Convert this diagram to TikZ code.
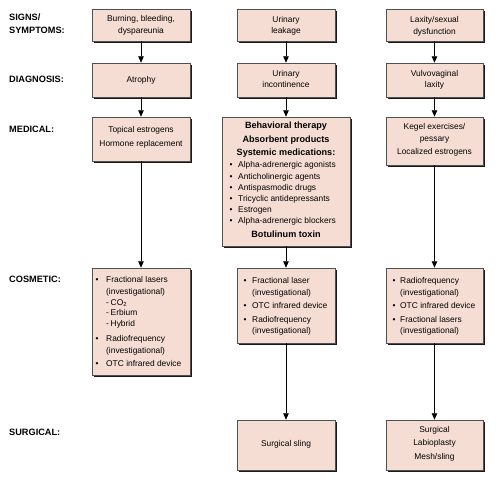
\documentclass[tikz,border=0pt]{standalone}
\usepackage{fontspec}
\setmainfont{Liberation Sans}
\usetikzlibrary{arrows.meta,shadows}
\definecolor{pinkfill}{HTML}{F6DDD4}
\definecolor{boxline}{HTML}{505050}
\begin{document}
\begin{tikzpicture}[x=1pt,y=-1pt,
  box/.style={draw=boxline, line width=0.5pt, fill=pinkfill, inner sep=0pt,
    drop shadow={shadow xshift=2.2pt, shadow yshift=-2.2pt, fill=black!90, opacity=1}},
  txt/.style={font=\fontsize{8.4}{10}\selectfont, inner sep=0pt, anchor=mid},
  txtl/.style={txt, anchor=mid west},
  btxt/.style={font=\fontsize{9.1}{11}\selectfont\bfseries, inner sep=0pt, anchor=mid},
  lab/.style={font=\fontsize{9.2}{11}\selectfont\bfseries, inner sep=0pt, anchor=mid west},
  arr/.style={line width=0.9pt, -{Triangle[width=5.5pt,length=6.5pt]}}]
\useasboundingbox (0,0) rectangle (500,482);

% row labels
\node[lab] (lsigns) at (9,17.5) {SIGNS/};
\node[lab] (lsymp) at (9,31) {SYMPTOMS:};
\node[lab] (ldiag) at (9,80) {DIAGNOSIS:};
\node[lab] (lmed) at (9,130) {MEDICAL:};
\node[lab] (lcos) at (9,280) {COSMETIC:};
\node[lab] (lsurg) at (9,433) {SURGICAL:};

% boxes column 1
\node[box, minimum width=98pt, minimum height=32pt] (a1) at (141,25) {};
\node[box, minimum width=98pt, minimum height=34pt] (a2) at (141,80) {};
\node[box, minimum width=98pt, minimum height=44pt] (a3) at (141,139) {};
\node[box, minimum width=98pt, minimum height=107pt] (a4) at (141,321.5) {};
% column 2
\node[box, minimum width=98pt, minimum height=32pt] (b1) at (286,25) {};
\node[box, minimum width=98pt, minimum height=34pt] (b2) at (286,80) {};
\node[box, minimum width=128pt, minimum height=129pt] (b3) at (286,181.5) {};
\node[box, minimum width=98pt, minimum height=75pt] (b4) at (286,305.5) {};
\node[box, minimum width=98pt, minimum height=50pt] (b5) at (286,445) {};
% column 3
\node[box, minimum width=97pt, minimum height=32pt] (c1) at (434.5,25) {};
\node[box, minimum width=97pt, minimum height=34pt] (c2) at (434.5,80) {};
\node[box, minimum width=97pt, minimum height=48pt] (c3) at (434.5,141) {};
\node[box, minimum width=97pt, minimum height=75pt] (c4) at (434.5,305.5) {};
\node[box, minimum width=97pt, minimum height=50pt] (c5) at (434.5,445) {};

% arrows
\draw[arr] (a1.south) -- (a2.north);
\draw[arr] (a2.south) -- (a3.north);
\draw[arr] (a3.south) -- (a4.north);
\draw[arr] (b1.south) -- (b2.north);
\draw[arr] (b2.south) -- (b3.north);
\draw[arr] (b3.south) -- (b4.north);
\draw[arr] (b4.south) -- (b5.north);
\draw[arr] (c1.south) -- (c2.north);
\draw[arr] (c2.south) -- (c3.north);
\draw[arr] (c3.south) -- (c4.north);
\draw[arr] (c4.south) -- (c5.north);

% column 1 texts
\node[txt] (ta1a) at (141,19) {Burning, bleeding,};
\node[txt] (ta1b) at (141,31) {dyspareunia};
\node[txt] (ta2a) at (141,80) {Atrophy};
\node[txt] (ta3a) at (141,130) {Topical estrogens};
\node[txt] (ta3b) at (141,144) {Hormone replacement};
\node[txt] (ba4a) at (97,280) {•};
\node[txtl] (ta4a) at (106,280) {Fractional lasers};
\node[txtl] (ta4b) at (106,291.7) {(investigational)};
\node[txtl] (da4c) at (106,302.7) {-};
\node[txtl] (ta4c) at (110.5,302.7) {CO\textsubscript{2}};
\node[txtl] (da4d) at (106,313.3) {-};
\node[txtl] (ta4d) at (110.5,313.3) {Erbium};
\node[txtl] (da4e) at (106,324) {-};
\node[txtl] (ta4e) at (110.5,324) {Hybrid};
\node[txt] (ba4f) at (97,339.3) {•};
\node[txtl] (ta4f) at (106,339.3) {Radiofrequency};
\node[txtl] (ta4g) at (106,350.7) {(investigational)};
\node[txt] (ba4h) at (97,364) {•};
\node[txtl] (ta4h) at (106,364) {OTC infrared device};

% column 2 texts
\node[txt] (tb1a) at (286,19.5) {Urinary};
\node[txt] (tb1b) at (286,31) {leakage};
\node[txt] (tb2a) at (286,74) {Urinary};
\node[txt] (tb2b) at (286,85) {incontinence};
\node[btxt] (tb3a) at (286,126) {Behavioral therapy};
\node[btxt] (tb3b) at (286,140) {Absorbent products};
\node[btxt] (tb3c) at (286,153) {Systemic medications:};
\node[txt] (bb3d) at (231,165) {•};
\node[txtl] (tb3d) at (238,165) {Alpha-adrenergic agonists};
\node[txt] (bb3e) at (231,176.7) {•};
\node[txtl] (tb3e) at (238,176.7) {Anticholinergic agents};
\node[txt] (bb3f) at (231,187.7) {•};
\node[txtl] (tb3f) at (238,187.7) {Antispasmodic drugs};
\node[txt] (bb3g) at (231,199) {•};
\node[txtl] (tb3g) at (238,199) {Tricyclic antidepressants};
\node[txt] (bb3h) at (231,210) {•};
\node[txtl] (tb3h) at (238,210) {Estrogen};
\node[txt] (bb3i) at (231,221) {•};
\node[txtl] (tb3i) at (238,221) {Alpha-adrenergic blockers};
\node[btxt] (tb3j) at (286,235) {Botulinum toxin};
\node[txt] (bb4a) at (245,280.7) {•};
\node[txtl] (tb4a) at (252,280.7) {Fractional laser};
\node[txtl] (tb4b) at (252,292.7) {(investigational)};
\node[txt] (bb4c) at (245,305.7) {•};
\node[txtl] (tb4c) at (252,305.7) {OTC infrared device};
\node[txt] (bb4d) at (245,320) {•};
\node[txtl] (tb4d) at (252,320) {Radiofrequency};
\node[txtl] (tb4e) at (252,330.7) {(investigational)};
\node[txt] (tb5a) at (286,444) {Surgical sling};

% column 3 texts
\node[txt] (tc1a) at (434.5,19.5) {Laxity/sexual};
\node[txt] (tc1b) at (434.5,31.5) {dysfunction};
\node[txt] (tc2a) at (434.5,74) {Vulvovaginal};
\node[txt] (tc2b) at (434.5,85) {laxity};
\node[txt] (tc3a) at (434.5,126.7) {Kegel exercises/};
\node[txt] (tc3b) at (434.5,139.3) {pessary};
\node[txt] (tc3c) at (434.5,152.3) {Localized estrogens};
\node[txt] (bc4a) at (394,280.7) {•};
\node[txtl] (tc4a) at (400,280.7) {Radiofrequency};
\node[txtl] (tc4b) at (400,292.7) {(investigational)};
\node[txt] (bc4c) at (394,305.7) {•};
\node[txtl] (tc4c) at (400,305.7) {OTC infrared device};
\node[txt] (bc4d) at (394,320) {•};
\node[txtl] (tc4d) at (400,320) {Fractional lasers};
\node[txtl] (tc4e) at (400,330.7) {(investigational)};
\node[txt] (tc5a) at (434.5,430) {Surgical};
\node[txt] (tc5b) at (434.5,443) {Labioplasty};
\node[txt] (tc5c) at (434.5,457) {Mesh/sling};
\end{tikzpicture}
\end{document}
